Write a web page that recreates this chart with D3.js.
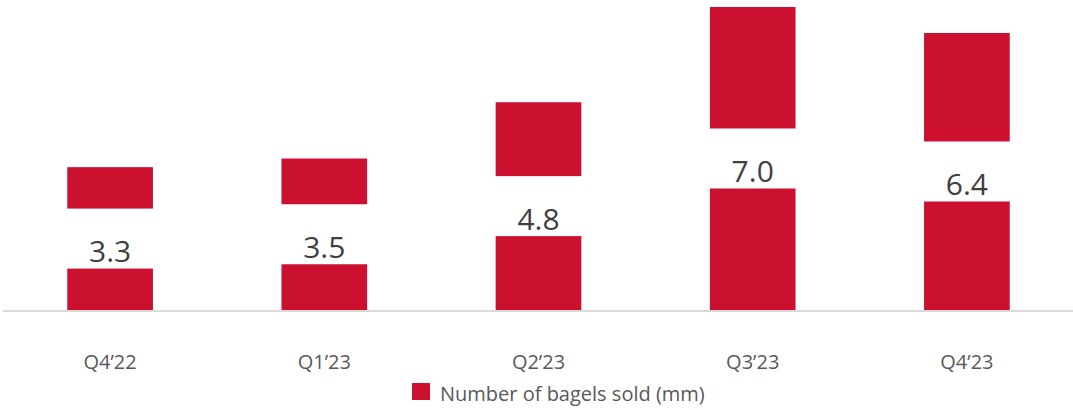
<!DOCTYPE html>
<html>
<head>
<meta charset="utf-8">
<script src="https://cdn.jsdelivr.net/npm/d3@7"></script>
<style>
  html, body { margin: 0; padding: 0; background: #fff; }
  svg { display: block; font-family: "Open Sans", "Noto Sans", sans-serif; }
</style>
</head>
<body>
<div id="chart"></div>
<script>
// chart data
const quarters = ["Q4\u201922", "Q1\u201923", "Q2\u201923", "Q3\u201923", "Q4\u201923"];
const bagelsSold = [3.3, 3.5, 4.8, 7.0, 6.4];
const seriesName = "Number of bagels sold (mm)";

const width = 1073, height = 410;
const baseY = 310;
const barColor = "#CC1030";

const svg = d3.select("#chart").append("svg")
    .attr("width", width)
    .attr("height", height);

// scales
const xScale = d3.scaleBand()
    .domain(quarters)
    .range([3, 1074])
    .paddingInner(0.6)
    .paddingOuter(0.3);

const yScale = d3.scaleLinear()
    .domain([0, 7])
    .range([baseY, 7]);

const data = quarters.map((q, i) => ({ q: q, v: bagelsSold[i] }));

// bars
svg.selectAll(".bar")
    .data(data)
    .join("rect")
    .attr("class", "bar")
    .attr("x", d => xScale(d.q))
    .attr("y", d => yScale(d.v))
    .attr("width", xScale.bandwidth())
    .attr("height", d => baseY - yScale(d.v))
    .attr("fill", barColor);

// white label boxes that cut the bar in the middle
const mid = d => (yScale(d.v) + baseY) / 2;

svg.selectAll(".label-bg")
    .data(data)
    .join("rect")
    .attr("class", "label-bg")
    .attr("x", d => xScale(d.q) - 2)
    .attr("y", d => mid(d) - 30)
    .attr("width", xScale.bandwidth() + 4)
    .attr("height", 60)
    .attr("fill", "#fff");

svg.selectAll(".value")
    .data(data)
    .join("text")
    .attr("class", "value")
    .attr("x", d => xScale(d.q) + xScale.bandwidth() / 2)
    .attr("y", d => mid(d) + 23.5)
    .attr("text-anchor", "middle")
    .attr("font-size", 30)
    .attr("fill", "#404040")
    .text(d => d.v.toFixed(1));

// baseline
svg.append("line")
    .attr("x1", 3).attr("x2", 1073)
    .attr("y1", baseY + 1).attr("y2", baseY + 1)
    .attr("stroke", "#d9d9d9")
    .attr("stroke-width", 2);

// x axis labels
const xAxis = d3.axisBottom(xScale).tickSize(0).tickPadding(0);
const xAxisG = svg.append("g")
    .attr("transform", `translate(0,${baseY})`)
    .call(xAxis);
xAxisG.select(".domain").remove();
xAxisG.selectAll("text")
    .attr("dy", null)
    .attr("y", 59)
    .attr("font-family", "Open Sans, Noto Sans, sans-serif")
    .attr("font-size", 20)
    .attr("fill", "#595959");

// legend
const legend = svg.append("g").attr("transform", "translate(412,383)");
legend.append("rect")
    .attr("width", 18)
    .attr("height", 17)
    .attr("fill", barColor);
legend.append("text")
    .attr("x", 28)
    .attr("y", 18)
    .attr("font-size", 20)
    .attr("fill", "#595959")
    .text(seriesName);
</script>
</body>
</html>
